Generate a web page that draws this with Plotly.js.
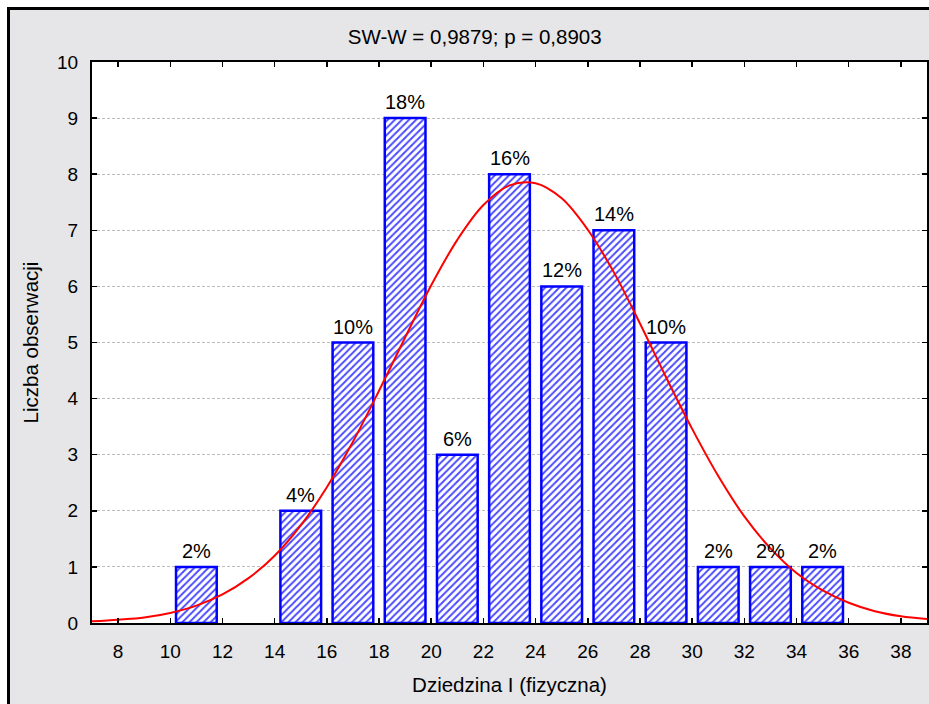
<!DOCTYPE html>
<html>
<head>
<meta charset="utf-8">
<script src="https://cdn.plot.ly/plotly-3.0.1.min.js"></script>
<style>
html,body{margin:0;padding:0;background:#ffffff;overflow:hidden;width:929px;height:704px;}
#frame{position:absolute;left:7px;top:7px;width:960px;height:740px;background:#e6e6e8;border-left:3px solid #000;border-top:3px solid #000;}
#chart{position:absolute;left:0;top:0;width:929px;height:704px;}
</style>
</head>
<body>
<div id="frame"></div>
<div id="chart"></div>
<script>
// Histogram bins (centres of 2-unit bins), counts and percentage labels
const binCenters = [11, 15, 17, 19, 21, 23, 25, 27, 29, 31, 33, 35];
const counts = [1, 2, 5, 9, 3, 8, 6, 7, 5, 1, 1, 1];
const pctLabels = ['2%', '4%', '10%', '18%', '6%', '16%', '12%', '14%', '10%', '2%', '2%', '2%'];

// Expected normal curve
const curveX = [7, 8, 9, 10, 11, 12, 13, 14, 15, 16, 17, 18, 19, 20, 21, 22, 23, 24, 25, 26, 27, 28, 29, 30, 31, 32, 33, 34, 35, 36, 37, 38, 39];
const curveY = [0.03, 0.06, 0.10, 0.18, 0.31, 0.51, 0.80, 1.20, 1.74, 2.42, 3.23, 4.14, 5.09, 6.02, 6.83, 7.45, 7.80, 7.84, 7.57, 7.01, 6.25, 5.34, 4.38, 3.46, 2.62, 1.90, 1.33, 0.89, 0.58, 0.36, 0.21, 0.12, 0.07];

const xTicks = [8, 10, 12, 14, 16, 18, 20, 22, 24, 26, 28, 30, 32, 34, 36, 38];
const yTicks = [0, 1, 2, 3, 4, 5, 6, 7, 8, 9, 10];

const titleText = 'SW-W = 0,9879; p = 0,8903';
const xTitle = 'Dziedzina I (fizyczna)';
const yTitle = 'Liczba obserwacji';

const FONT = 'Liberation Sans, Arial, sans-serif';

const bars = {
  type: 'bar',
  x: binCenters,
  y: counts,
  marker: {
    color: '#ffffff',
    line: {color: '#0000ff', width: 2.5},
    pattern: {shape: '/', fgcolor: '#4848ff', bgcolor: '#ffffff', size: 5, solidity: 0.38}
  },
  hoverinfo: 'skip',
  showlegend: false
};

const curve = {
  type: 'scatter',
  mode: 'lines',
  x: curveX,
  y: curveY,
  line: {color: '#ff0000', width: 2, shape: 'spline'},
  hoverinfo: 'skip',
  showlegend: false
};

const annotations = binCenters.map((c, i) => ({
  x: c, y: counts[i], xref: 'x', yref: 'y',
  text: pctLabels[i], showarrow: false,
  yanchor: 'bottom', yshift: 3,
  font: {family: FONT, size: 20, color: '#000000'}
}));

const layout = {
  width: 929, height: 704,
  paper_bgcolor: 'rgba(0,0,0,0)',
  plot_bgcolor: '#ffffff',
  margin: {l: 92, r: 2, t: 62, b: 81, pad: 0},
  bargap: 0.22,
  font: {family: FONT, size: 19, color: '#000000'},
  title: {
    text: titleText, xref: 'container', yref: 'container',
    x: 0.511, xanchor: 'center', y: 0.947, yanchor: 'middle',
    font: {family: FONT, size: 20.5, color: '#000000'}
  },
  xaxis: {
    range: [7, 39],
    tickmode: 'array', tickvals: xTicks, ticktext: xTicks.map(String),
    ticks: 'inside', ticklen: 5, tickwidth: 1.5, tickcolor: '#000000',
    showline: true, linecolor: '#000000', linewidth: 2, mirror: 'ticks',
    showgrid: false, zeroline: false,
    ticklabelstandoff: 10,
    tickfont: {family: FONT, size: 19, color: '#000000'},
    title: {text: xTitle, standoff: 17, font: {family: FONT, size: 20.5, color: '#000000'}},
    automargin: false
  },
  yaxis: {
    range: [0, 10],
    tickmode: 'array', tickvals: yTicks, ticktext: yTicks.map(String),
    ticks: 'inside', ticklen: 5, tickwidth: 1.5, tickcolor: '#000000',
    showline: true, linecolor: '#000000', linewidth: 2, mirror: 'ticks',
    showgrid: true, gridcolor: '#bdbdbd', gridwidth: 1, griddash: '3px,2px',
    zeroline: false,
    ticklabelstandoff: 8,
    tickfont: {family: FONT, size: 19, color: '#000000'},
    title: {text: yTitle, standoff: 13, font: {family: FONT, size: 20.5, color: '#000000'}},
    automargin: false
  },
  annotations: annotations
};

Plotly.newPlot('chart', [bars, curve], layout, {staticPlot: true, displayModeBar: false});
</script>
</body>
</html>
